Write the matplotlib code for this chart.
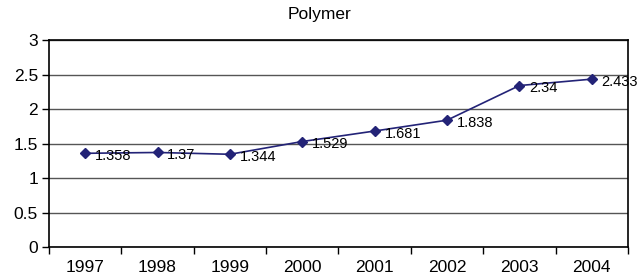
import matplotlib.pyplot as plt
import numpy as np

plt.rcParams['font.family'] = ['Liberation Sans', 'DejaVu Sans']

# data
years = ['1997', '1998', '1999', '2000', '2001', '2002', '2003', '2004']
values = [1.358, 1.37, 1.344, 1.529, 1.681, 1.838, 2.34, 2.433]
value_labels = ['1.358', '1.37', '1.344', '1.529', '1.681', '1.838', '2.34', '2.433']
y_ticks = [0, 0.5, 1, 1.5, 2, 2.5, 3]
y_tick_labels = ['0', '0.5', '1', '1.5', '2', '2.5', '3']

fig = plt.figure(figsize=(6.39, 2.75), dpi=100)
ax = fig.add_axes([0.0767, 0.1018, 0.906, 0.7527])

x = np.arange(len(years))
ax.plot(x, values, color='#232377', linewidth=1.2, marker='D', markersize=5.5,
        markerfacecolor='#232377', markeredgecolor='#232377', zorder=3)
for xi, yi, lab in zip(x, values, value_labels):
    ax.annotate(lab, (xi, yi), xytext=(7, -2), textcoords='offset points',
                fontsize=10.5, ha='left', va='center', color='black', zorder=4)

ax.set_xlim(-0.5, len(years) - 0.5)
ax.set_ylim(0, 3)
ax.set_yticks(y_ticks)
ax.set_yticklabels(y_tick_labels, fontsize=12.5)
ax.set_xticks(x)
ax.set_xticklabels(years, fontsize=12.5)
ax.set_xticks(np.arange(-0.5, len(years)), minor=True)
ax.tick_params(axis='x', which='major', length=0, pad=9)
ax.tick_params(axis='x', which='minor', length=5, width=1, direction='out')
ax.tick_params(axis='y', length=5, width=1, direction='out', pad=3)

ax.yaxis.grid(True, color='#555555', linewidth=1)
ax.set_axisbelow(True)
for s in ax.spines.values():
    s.set_color('black')
    s.set_linewidth(1.2)

fig.text(0.5, 1 - 15 / 275, 'Polymer', fontsize=12.5, ha='center', va='center')

plt.savefig('out.png', dpi=100)
